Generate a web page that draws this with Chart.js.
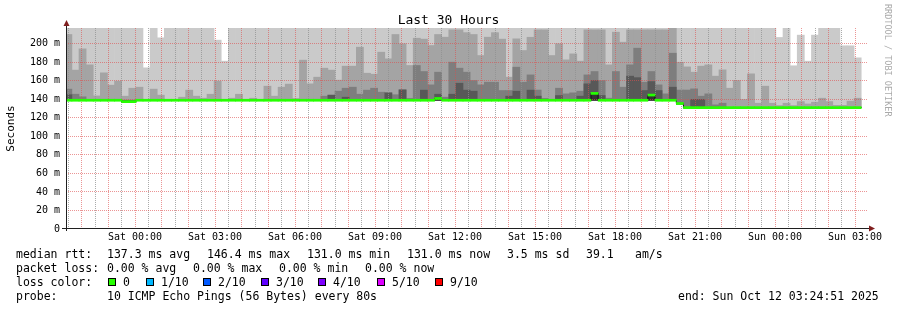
<!DOCTYPE html>
<html>
<head>
<meta charset="utf-8">
<script src="https://cdn.jsdelivr.net/npm/chart.js@4.4.1/dist/chart.umd.min.js"></script>
<style>
  html, body { margin: 0; padding: 0; background: #fff; }
  #wrap { position: relative; width: 897px; height: 310px; overflow: hidden; font-family: 'DejaVu Sans Mono', monospace; color: #000; }
  #chart { position: absolute; left: 0; top: 0; }
  #title { position: absolute; left: 0; top: 12px; width: 897px; text-align: center; font-size: 13px; line-height: 16px; }
  #mark { position: absolute; left: 883px; top: 4px; writing-mode: vertical-rl; font-size: 8.5px; line-height: 10px; color: #aaa; white-space: pre; }
  .t { position: absolute; white-space: pre; font-size: 11.5px; line-height: 14px; }
  .box { position: absolute; width: 6px; height: 6px; border: 1px solid #000; }
</style>
</head>
<body>
<div id="wrap">
  <canvas id="chart" width="897" height="310"></canvas>
  <div id="title">Last 30 Hours</div>
  <div id="mark">RRDTOOL / TOBI OETIKER</div>
  <div id="legend"></div>
</div>
<script>
// 16 minute RRA columns, hours relative to Sat 00:00 (first column centred on Fri 21:30)
const firstSlot = -2.5;
const slotHours = 16 / 60;

// median rtt (ms) per column
const median = [
  139, 139, 139, 139, 139, 139, 139, 139, 137.5, 137.5,
  139, 139, 139, 139, 139, 139, 139, 139, 139, 139,
  139, 139, 139, 139, 139, 139, 139, 139, 139, 139,
  139, 139, 139, 139, 139, 139, 139, 139, 139, 139,
  139, 139, 139, 139, 139, 139, 139, 139, 139, 139,
  139, 139, 140.9, 139, 139, 139, 139, 139, 139, 139,
  139, 139, 139, 139, 139, 139, 139, 139, 139, 139,
  139, 139, 139, 139, 146.4, 139, 139, 139, 139, 139,
  139, 139, 144.6, 139, 139, 139, 135.5, 131, 131, 131,
  131, 131, 131, 131, 131, 131, 131, 131, 131, 131,
  131, 131, 131, 131, 131, 131, 131, 131, 131, 131,
  131, 131
];

// fastest ping (bottom of the smoke)
const fastest = [
  139, 139, 139, 139, 139, 139, 139, 139, 137, 137,
  139, 139, 139, 139, 139, 139, 139, 139, 139, 139,
  139, 139, 139, 139, 139, 139, 139, 139, 139, 139,
  139, 139, 139, 139, 139, 139, 139, 139, 139, 139,
  139, 139, 139, 139, 139, 139, 139, 139, 139, 139,
  139, 139, 139, 139, 139, 139, 139, 139, 139, 139,
  139, 139, 139, 139, 139, 139, 139, 139, 139, 139,
  139, 139, 139, 139, 139, 139, 139, 139, 139, 139,
  139, 139, 139, 139, 139, 139, 135, 131, 131, 131,
  131, 131, 131, 131, 131, 131, 131, 131, 131, 131,
  131, 131, 131, 131, 131, 131, 131, 131, 131, 131,
  131, 131
];

// slowest ping (top of the lightest smoke)
const slowest = [
  218, 218, 218, 218, 218, 218, 218, 218, 218, 218,
  218, 174, 218, 206.4, 218, 218, 218, 218, 218, 218,
  218, 203.9, 181.2, 218, 218, 218, 218, 218, 218, 218,
  218, 218, 218, 218, 218, 218, 218, 218, 218, 218,
  218, 218, 218, 218, 218, 218, 218, 218, 218, 218,
  218, 218, 218, 218, 218, 218, 218, 218, 218, 218,
  218, 218, 218, 218, 218, 218, 218, 218, 218, 218,
  218, 218, 218, 218, 218, 218, 218, 218, 218, 218,
  218, 218, 218, 218, 218, 218, 218, 218, 218, 218,
  218, 218, 218, 218, 218, 218, 218, 218, 218, 218,
  206.8, 218, 176.2, 209.3, 181.2, 209.3, 218, 218, 218, 197.8,
  197.8, 184.8
];

// 9th of 10 pings
const ping9 = [
  210, 171.5, 194.5, 177.2, 143.7, 168.6, 155.3, 159.6, 143.4, 152,
  153.1, 139, 151, 144.5, 139, 139, 142.3, 149.9, 143.4, 141.2,
  145.5, 159.6, 139, 141.2, 145.5, 139, 141.2, 139, 154.2, 143.4,
  153.1, 156.4, 140.9, 182.3, 156.7, 163.9, 173.6, 171.5, 160.7, 175.8,
  175.8, 196.3, 168.2, 167.1, 190.9, 183.7, 210, 200, 176.5, 206,
  205, 198.1, 210, 207.1, 215, 215, 212, 210, 187.3, 207.1,
  212, 205, 163.9, 205.3, 192.7, 207, 215, 215, 187.3, 200,
  182.6, 189.1, 181.2, 215, 215, 215, 177.2, 212.5, 201.7, 215,
  215, 215, 215, 215, 215, 218, 180, 175, 169.3, 175.8,
  177.2, 165, 171.8, 152, 160.3, 139.8, 167.5, 135.8, 154.2, 135.8,
  133.3, 135.8, 133.3, 137.6, 135, 136.9, 141.2, 137.6, 133.5, 133.5,
  138, 141.2
];

// 8th of 10 pings
const ping8 = [
  151, 145.5, 142.7, 139, 139, 139, 139, 139, 139, 139,
  139, 139, 139, 139, 139, 139, 139, 139, 139, 139,
  139, 139, 139, 139, 139, 139, 139, 139, 139, 139,
  139, 139, 139, 139, 139, 139, 143.4, 144.5, 148.8, 152,
  153.1, 145.5, 149.9, 152, 147.7, 147, 145, 150.2, 141, 176.5,
  170, 155.6, 169.3, 142.3, 180.1, 173.6, 169.3, 160.3, 155.6, 158.5,
  158.5, 149.5, 149.5, 174.7, 158.5, 166.4, 150, 141, 139, 152,
  145.9, 147, 148.8, 166.4, 170, 160.3, 141.2, 170, 153.1, 177.2,
  195.2, 158.5, 170, 155.6, 145.9, 189.8, 150, 150, 151.3, 143.4,
  145.9, 134, 135.8, 131, 131, 131, 131, 131, 131, 131,
  131, 131, 131, 131, 131, 131, 131, 131, 131, 131,
  131, 131
];

// 7th of 10 pings
const ping7 = [
  145, 139, 139, 139, 139, 139, 139, 139, 139, 139,
  139, 139, 139, 139, 139, 139, 139, 139, 139, 139,
  139, 139, 139, 139, 139, 139, 139, 139, 139, 139,
  139, 139, 139, 139, 139, 139, 139, 144.5, 139, 142.3,
  139, 139, 139, 139, 139, 147, 139, 150.2, 139, 139,
  149.9, 139, 145.5, 139, 145.5, 157.4, 149.9, 148.8, 139, 139,
  139, 139, 143.4, 148.8, 139, 149.9, 143.4, 139, 139, 144.1,
  139, 139, 143.4, 156.7, 160.3, 144.1, 139, 139, 139, 165,
  163.4, 149.5, 159.2, 149.5, 139, 153.1, 135.5, 131, 140, 140,
  131, 131, 131, 131, 131, 131, 131, 131, 131, 131,
  131, 131, 131, 131, 131, 131, 131, 131, 131, 131,
  131, 131
];

const yTickValues = [0, 20, 40, 60, 80, 100, 120, 140, 160, 180, 200];
const yTickLabels = ['0', '20 m', '40 m', '60 m', '80 m', '100 m', '120 m', '140 m', '160 m', '180 m', '200 m'];
const xTickHours = [0, 3, 6, 9, 12, 15, 18, 21, 24, 27];
const xTickLabels = ['Sat 00:00', 'Sat 03:00', 'Sat 06:00', 'Sat 09:00', 'Sat 12:00', 'Sat 15:00',
  'Sat 18:00', 'Sat 21:00', 'Sun 00:00', 'Sun 03:00'];

const lossLabels = ['0', '1/10', '2/10', '3/10', '4/10', '5/10', '9/10'];
const lossColors = ['#26ff00', '#00b8ff', '#0059ff', '#5e00ff', '#7e00ff', '#dd00ff', '#ff0000'];

const FONT = 'DejaVu Sans Mono';
const MINOR = 'rgba(143, 143, 143, 0.75)';
const MAJOR = 'rgba(222, 79, 79, 0.6)';

const slots = median.map((m, i) => firstSlot + i * slotHours);

function band(tops) {
  return slots.map((x, i) => ({ x: x, y: [fastest[i], Math.max(fastest[i], tops[i])] }));
}

const smoke = [
  { tops: median, color: '#323232' },
  { tops: ping7, color: '#585858' },
  { tops: ping8, color: '#7e7e7e' },
  { tops: ping9, color: '#a4a4a4' },
  { tops: slowest, color: '#cacaca' }
];

const datasets = [{
  label: 'median',
  data: slots.map((x, i) => ({ x: x, y: [median[i] - 1.1, median[i] + 1.1] })),
  backgroundColor: lossColors[0]
}, {
  type: 'line',
  label: 'median edge',
  data: slots.map((x, i) => ({ x: x, y: median[i] })),
  stepped: 'middle',
  borderColor: '#111',
  borderWidth: 1,
  pointRadius: 0,
  fill: false
}].concat(smoke.map(s => ({
  label: 'smoke',
  data: band(s.tops),
  backgroundColor: s.color
})));
const LAST_SMOKE = 2; // index of the darkest smoke band, grid goes on top of it

// rrdtool style dotted grid, one pixel on / one off, placed from the scale ticks
function drawGrid(chart) {
  const ctx = chart.ctx;
  const a = chart.chartArea;
  const xs = chart.scales.x;
  const ys = chart.scales.y;
  ctx.save();
  xs.ticks.forEach(t => {
    const px = Math.round(xs.getPixelForValue(t.value) - 0.5);
    ctx.fillStyle = Number.isInteger(t.value) ? MAJOR : MINOR;
    for (let y = a.top; y < a.bottom; y += 2) ctx.fillRect(px, y, 1, 1);
  });
  ys.ticks.forEach(t => {
    if (t.value === 0) return;
    const py = Math.round(ys.getPixelForValue(t.value) - 0.5);
    ctx.fillStyle = t.value % 20 === 0 ? MAJOR : MINOR;
    for (let x = a.left + 1; x < a.right; x += 2) ctx.fillRect(x, py, 1, 1);
  });
  ctx.restore();
}

const rrdGrid = {
  id: 'rrdGrid',
  afterDatasetDraw(chart, args) {
    if (args.index === LAST_SMOKE) drawGrid(chart);
  }
};

// axis lines and the little rrdtool arrows
const rrdAxes = {
  id: 'rrdAxes',
  afterDraw(chart) {
    const ctx = chart.ctx;
    const a = chart.chartArea;
    const ax = a.left - 0.5;
    const ay = a.bottom - 0.5;
    ctx.save();
    ctx.strokeStyle = '#1f1f1f';
    ctx.lineWidth = 1;
    ctx.beginPath();
    ctx.moveTo(ax, a.bottom + 2);
    ctx.lineTo(ax, a.top - 4);
    ctx.moveTo(a.left - 5, ay);
    ctx.lineTo(a.right + 3, ay);
    ctx.stroke();
    ctx.fillStyle = '#801f1f';
    ctx.beginPath();
    ctx.moveTo(ax - 3, a.top - 2);
    ctx.lineTo(ax + 3, a.top - 2);
    ctx.lineTo(ax, a.top - 8);
    ctx.closePath();
    ctx.fill();
    ctx.beginPath();
    ctx.moveTo(a.right + 2, ay - 3);
    ctx.lineTo(a.right + 2, ay + 3);
    ctx.lineTo(a.right + 8, ay);
    ctx.closePath();
    ctx.fill();
    ctx.restore();
  }
};

new Chart(document.getElementById('chart'), {
  type: 'bar',
  data: { datasets: datasets },
  plugins: [rrdGrid, rrdAxes],
  options: {
    responsive: false,
    animation: false,
    events: [],
    layout: { padding: { left: 0, top: 28, right: 30, bottom: 0 } },
    datasets: {
      bar: { grouped: false, barPercentage: 1, categoryPercentage: 1, borderWidth: 0 }
    },
    plugins: {
      legend: { display: false },
      tooltip: { enabled: false },
      title: { display: false }
    },
    scales: {
      x: {
        type: 'linear',
        offset: false,
        min: -2.55,
        max: 27.45,
        afterBuildTicks: s => {
          const t = [];
          for (let v = -2.5; v <= 27; v += 0.5) t.push({ value: v });
          s.ticks = t;
        },
        afterFit: s => {
          s.height = 81;
          s.paddingLeft = 0;
          s.paddingRight = 0;
        },
        grid: { display: false, drawTicks: false },
        border: { display: false },
        ticks: {
          autoSkip: false,
          maxRotation: 0,
          minRotation: 0,
          padding: 2,
          color: '#000',
          font: { family: FONT, size: 10 },
          callback: v => {
            const i = xTickHours.indexOf(v);
            return i < 0 ? '' : xTickLabels[i];
          }
        }
      },
      y: {
        min: 0,
        max: 217,
        afterBuildTicks: s => {
          const t = [];
          for (let v = 0; v <= 210; v += 10) t.push({ value: v });
          s.ticks = t;
        },
        afterFit: s => {
          s.width = 67;
          s.paddingTop = 0;
          s.paddingBottom = 0;
        },
        grid: { display: false, drawTicks: false },
        border: { display: false },
        ticks: {
          padding: 7,
          color: '#000',
          font: { family: FONT, size: 10 },
          callback: v => {
            const i = yTickValues.indexOf(v);
            return i < 0 ? '' : yTickLabels[i];
          }
        },
        title: {
          display: true,
          text: 'Seconds',
          color: '#000',
          font: { family: FONT, size: 11 },
          padding: { top: 5, bottom: 0 }
        }
      }
    }
  }
});

// text legend under the graph (rrdtool style)
const legendRows = [
  [254, [[16, 'median rtt:'], [107, '137.3 ms avg'], [207, '146.4 ms max'], [307, '131.0 ms min'],
         [407, '131.0 ms now'], [507, '3.5 ms sd'], [586, '39.1'], [635, 'am/s']]],
  [268, [[16, 'packet loss:'], [107, '0.00 % avg'], [193, '0.00 % max'], [279, '0.00 % min'], [365, '0.00 % now']]],
  [282, [[16, 'loss color:']]],
  [296, [[16, 'probe:'], [107, '10 ICMP Echo Pings (56 Bytes) every 80s'], [678, 'end: Sun Oct 12 03:24:51 2025']]]
];
const lossBoxX = [108, 146, 203, 261, 318, 377, 435];

const legend = document.getElementById('legend');
let html = '';
legendRows.forEach(row => {
  row[1].forEach(cell => {
    html += '<div class="t" style="left:' + cell[0] + 'px;top:' + (row[0] - 7) + 'px">' + cell[1] + '</div>';
  });
});
lossLabels.forEach((lab, i) => {
  html += '<div class="box" style="left:' + lossBoxX[i] + 'px;top:278px;background:' + lossColors[i] + '"></div>';
  html += '<div class="t" style="left:' + (lossBoxX[i] + 15) + 'px;top:275px">' + lab + '</div>';
});
legend.innerHTML = html;
</script>
</body>
</html>
